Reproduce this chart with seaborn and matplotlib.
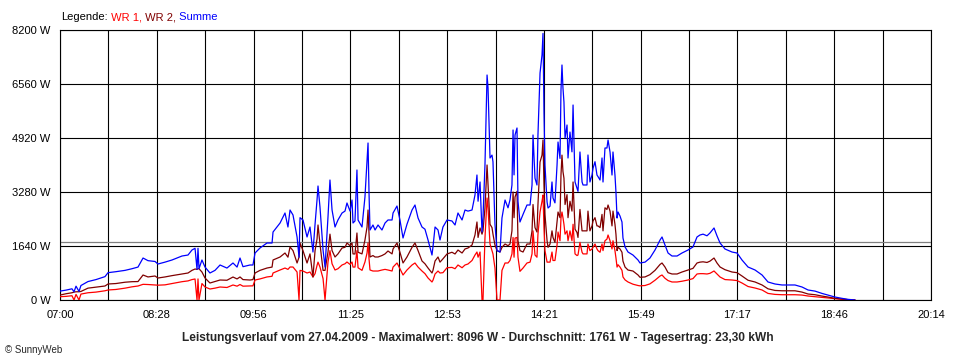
import matplotlib
matplotlib.use("Agg")
import matplotlib.pyplot as plt
import numpy as np
import pandas as pd
import seaborn as sns


# Leistungsverlauf 27.04.2009, minutes after 07:00, power in W
minutes = [
    0.0, 5.5, 10.9, 12.8, 14.6, 17.3, 19.1, 25.5, 32.8, 41.0,
    43.8, 51.0, 59.3, 65.6, 71.1, 75.7, 80.2, 86.6, 89.3, 95.7,
    102.1, 111.2, 116.7, 120.3, 123.1, 124.9, 125.8, 126.7, 129.4, 132.2,
    136.7, 141.3, 145.9, 152.2, 157.7, 161.4, 164.1, 166.8, 173.2, 175.9,
    177.8, 182.3, 188.7, 193.3, 194.2, 200.6, 205.1, 207.8, 209.7, 212.4,
    216.1, 217.9, 218.8, 221.5, 225.2, 227.9, 230.6, 232.5, 234.3, 235.2,
    237.0, 239.8, 241.6, 244.3, 246.1, 248.0, 250.7, 253.4, 257.1, 259.8,
    261.6, 264.4, 266.2, 267.1, 268.9, 270.7, 271.7, 275.3, 278.0, 279.9,
    280.8, 281.7, 282.6, 285.3, 287.2, 289.9, 293.5, 296.3, 299.0, 302.7,
    303.6, 307.2, 309.9, 312.7, 316.3, 320.9, 323.6, 326.4, 330.0, 332.7,
    335.5, 339.1, 340.0, 341.9, 344.6, 346.4, 349.1, 352.8, 357.3, 360.1,
    362.8, 366.5, 369.2, 371.9, 375.6, 378.3, 380.1, 381.1, 382.9, 384.7,
    385.6, 387.4, 389.3, 390.2, 392.0, 393.8, 394.7, 396.5, 398.4, 401.1,
    402.9, 405.7, 408.4, 410.2, 412.0, 413.0, 413.9, 414.8, 416.6, 417.5,
    419.3, 422.1, 425.7, 428.5, 430.3, 431.2, 433.0, 434.8, 435.7, 437.6,
    439.4, 440.3, 441.2, 442.1, 444.0, 444.9, 446.7, 448.5, 449.4, 451.2,
    453.1, 454.0, 455.8, 456.7, 457.6, 458.5, 459.4, 460.4, 462.2, 463.1,
    464.9, 466.7, 467.7, 469.5, 471.3, 472.2, 474.0, 475.9, 476.8, 480.4,
    481.3, 483.1, 485.0, 485.9, 487.7, 489.5, 490.4, 492.3, 494.1, 495.0,
    496.8, 498.6, 499.6, 501.4, 503.2, 504.1, 505.9, 506.8, 507.8, 508.7,
    510.5, 512.3, 513.2, 515.1, 517.8, 522.3, 526.9, 528.7, 533.3, 537.8,
    542.4, 547.0, 548.8, 551.5, 554.3, 557.9, 562.5, 567.0, 572.5, 577.0,
    580.7, 583.4, 586.2, 589.8, 592.5, 596.2, 598.9, 601.7, 606.2, 612.6,
    617.2, 621.7, 627.2, 633.6, 640.0, 645.4, 651.8, 658.2, 663.6, 670.0,
    676.4, 681.9, 688.3, 694.6, 700.1, 706.5, 712.9, 718.3, 724.7,
]

summe = [
    270, 300, 340, 250, 420, 260, 440, 560, 620, 710,
    830, 860, 900, 950, 1000, 1275, 1195, 1170, 1093, 1150,
    1215, 1336, 1366, 1518, 1570, 930, 1570, 950, 1215, 1000,
    820, 900, 1063, 970, 1124, 1000, 1275, 1012, 1063, 1063,
    1427, 1579, 1731, 1731, 2065, 2338, 2642, 2217, 2733, 2581,
    1914, 1300, 2500, 2430, 1914, 2217, 1457, 2300, 3037, 3462,
    2824, 1518, 1000, 2520, 3644, 2733, 2217, 2430, 2642, 2700,
    2946, 2700, 3037, 2338, 2400, 3948, 2430, 2217, 3128, 4252,
    4768, 3250, 2126, 2278, 2126, 2278, 2126, 2338, 2430, 2430,
    2642, 2854, 2430, 1883, 2300, 2733, 2885, 2490, 2217, 2150,
    1822, 1366, 1610, 2217, 2126, 1822, 2217, 2430, 2400, 2278,
    2642, 2430, 2733, 2700, 2733, 3189, 3796, 3000, 3584, 2065,
    2500, 4100, 6833, 6438, 4313, 4400, 4200, 2300, 1500, 1457,
    2490, 3037, 2800, 3037, 3493, 5163, 3800, 5011, 5224, 3000,
    2369, 2600, 2885, 2885, 3493, 5011, 3700, 3493, 5011, 6894,
    7441, 8096, 5710, 4100, 2976, 2794, 2850, 3584, 3100, 2950,
    4100, 4798, 4300, 6377, 7137, 6438, 6013, 4920, 5315, 4313,
    5100, 4500, 5922, 3584, 3401, 3300, 4495, 3584, 3493, 3493,
    4404, 3584, 3796, 4000, 4200, 3796, 3750, 3644, 4313, 3584,
    4616, 4616, 4859, 4495, 3796, 4495, 3796, 3280, 2490, 2672,
    2550, 2369, 1883, 1610, 1457, 1366, 1215, 1124, 1150, 1275,
    1518, 1822, 1914, 1670, 1427, 1336, 1336, 1427, 1518, 1610,
    1914, 1974, 2000, 1950, 2035, 2187, 1950, 1731, 1549, 1457,
    1427, 1215, 1002, 911, 759, 547, 486, 456, 456, 456,
    395, 304, 270, 200, 150, 90, 50, 20, 0,
]

wr2 = [
    150, 190, 220, 240, 250, 250, 260, 360, 390, 425,
    486, 500, 540, 556, 560, 759, 700, 729, 668, 700,
    740, 790, 820, 900, 941, 930, 950, 950, 850, 668,
    516, 560, 607, 600, 698, 640, 700, 620, 607, 620,
    820, 900, 971, 1000, 1215, 1306, 1427, 1300, 1610, 1500,
    1124, 1300, 1731, 1500, 1124, 1400, 698, 1500, 1850, 2278,
    1700, 900, 900, 1457, 2000, 1500, 1306, 1400, 1579, 1600,
    1731, 1650, 1731, 1400, 1398, 2035, 1450, 1400, 1822, 2217,
    2733, 2000, 1306, 1350, 1306, 1306, 1350, 1400, 1488, 1400,
    1550, 1731, 1450, 1124, 1306, 1600, 1731, 1500, 1185, 1100,
    971, 820, 900, 1185, 1306, 1150, 1250, 1398, 1450, 1398,
    1518, 1427, 1550, 1579, 1670, 1974, 2369, 1900, 2187, 2000,
    2100, 2794, 4100, 3493, 2300, 2200, 2000, 1670, 1500, 1457,
    1600, 1700, 1650, 1700, 2100, 3280, 2500, 3128, 3300, 1800,
    1500, 1457, 1700, 1700, 2100, 2900, 2200, 2065, 2900, 4191,
    4400, 4859, 3500, 2600, 1800, 1600, 1700, 2100, 1900, 1750,
    2369, 2672, 2500, 3800, 4400, 3900, 3700, 2900, 3200, 2500,
    3000, 2700, 3584, 2150, 2050, 1900, 2750, 2100, 2100, 2100,
    2700, 2100, 2250, 2400, 2500, 2250, 2250, 2200, 2600, 2100,
    2800, 2750, 2885, 2700, 2250, 2700, 2300, 2000, 1500, 1600,
    1550, 1450, 1180, 1000, 910, 880, 760, 690, 700, 770,
    900, 1080, 1124, 1002, 830, 790, 790, 850, 911, 960,
    1124, 1150, 1160, 1140, 1180, 1275, 1124, 1002, 920, 850,
    830, 729, 600, 547, 456, 340, 290, 280, 280, 280,
    240, 182, 160, 120, 90, 50, 30, 10, 0,
]

wr1 = [
    100, 110, 130, 0, 170, 0, 180, 220, 240, 280,
    304, 320, 360, 400, 425, 476, 470, 455, 450, 460,
    500, 556, 580, 620, 638, 0, 640, 0, 500, 395,
    334, 360, 395, 380, 456, 420, 470, 420, 425, 430,
    607, 640, 700, 720, 820, 911, 971, 930, 1002, 1002,
    850, 0, 900, 880, 820, 850, 700, 800, 1050, 1150,
    1000, 650, 0, 1154, 1500, 1100, 911, 950, 1063, 1100,
    1154, 1080, 1154, 1000, 1000, 1500, 980, 900, 1154, 1427,
    1731, 1250, 911, 880, 880, 880, 911, 930, 911, 880,
    1000, 1124, 950, 759, 911, 1063, 1124, 1000, 880, 800,
    668, 547, 600, 790, 880, 820, 830, 980, 990, 950,
    1063, 980, 1063, 1093, 1200, 1366, 1457, 1300, 1457, 0,
    0, 1883, 3098, 2794, 1700, 1500, 1400, 971, 0, 0,
    900, 1124, 1124, 1200, 1400, 1900, 1300, 1880, 1900, 1300,
    870, 971, 1124, 1150, 1400, 2100, 1366, 1300, 2000, 2672,
    3000, 3189, 2200, 1500, 1150, 1150, 1150, 1457, 1200, 1200,
    1670, 2065, 1800, 2490, 2672, 2500, 2300, 2000, 2100, 1800,
    2100, 1800, 2300, 1400, 1350, 1366, 1750, 1450, 1400, 1400,
    1700, 1500, 1550, 1600, 1700, 1550, 1500, 1450, 1700, 1500,
    1800, 1850, 1974, 1800, 1550, 1800, 1500, 1280, 1000, 1070,
    1000, 900, 700, 610, 547, 480, 440, 430, 440, 490,
    600, 729, 759, 660, 590, 547, 547, 570, 607, 650,
    790, 800, 800, 790, 810, 881, 790, 698, 620, 607,
    590, 516, 410, 364, 304, 200, 170, 160, 160, 160,
    150, 121, 100, 80, 60, 40, 20, 10, 0,
]

avg_power = 1761
y_ticks = [0, 1640, 3280, 4920, 6560, 8200]
time_labels = ["07:00", "08:28", "09:56", "11:25", "12:53",
               "14:21", "15:49", "17:17", "18:46", "20:14"]
day_span = 794  # 07:00 -> 20:14 in minutes

series_order = ["WR 1", "WR 2", "Summe"]
palette = {"WR 1": "#ff0000", "WR 2": "#800000", "Summe": "#0000ff"}

df = pd.DataFrame({"minute": minutes, "WR 1": wr1, "WR 2": wr2, "Summe": summe})
long_df = df.melt(id_vars="minute", var_name="series", value_name="power")

sns.set_style("white")
plt.rcParams["font.family"] = ["Liberation Sans", "DejaVu Sans"]

fig = plt.figure(figsize=(9.6, 3.6), dpi=100)
ax = fig.add_axes([60 / 960, 60 / 360, 871 / 960, 270 / 360])

sns.lineplot(data=long_df, x="minute", y="power", hue="series",
             hue_order=series_order, palette=palette, estimator=None,
             sort=False, linewidth=0.9, legend=False, ax=ax, zorder=3)

# average line
ax.axhline(avg_power, color="#808080", lw=0.9, zorder=2)

# grid every 44 minutes, labels on every second line
grid_x = np.linspace(0, day_span, 19)
ax.set_xticks(grid_x)
ax.set_xticklabels([time_labels[i // 2] if i % 2 == 0 else "" for i in range(19)])
ax.set_xlim(0, day_span)
ax.set_ylim(0, 8200)
ax.set_yticks(y_ticks)
ax.set_yticklabels([f"{v} W" for v in y_ticks])
ax.set_xlabel("")
ax.set_ylabel("")

ax.grid(True, color="black", lw=0.8)
ax.set_axisbelow(True)
ax.tick_params(direction="out", length=4, width=0.8, color="black",
               labelsize=8, pad=3, labelcolor="black")
for s in ax.spines.values():
    s.set_color("black")
    s.set_linewidth(0.8)

# coloured legend line at the top
t = fig.text(61 / 960, 1 - 17 / 360, "Legende:", fontsize=8, color="black", va="center")
for name in series_order:
    t = ax.annotate(" " + name + ("," if name != "Summe" else ""), xy=(1, 0),
                    xycoords=t, va="bottom", fontsize=8, color=palette[name])

fig.text(0.498, 1 - 338 / 360,
         "Leistungsverlauf vom 27.04.2009 - Maximalwert: 8096 W - "
         "Durchschnitt: 1761 W - Tagesertrag: 23,30 kWh",
         ha="center", va="center", fontsize=8.6, fontweight="bold")
fig.text(5 / 960, 1 - 350 / 360, "\u00a9 SunnyWeb", ha="left", va="center", fontsize=7)

fig.savefig("out.png", dpi=100)
